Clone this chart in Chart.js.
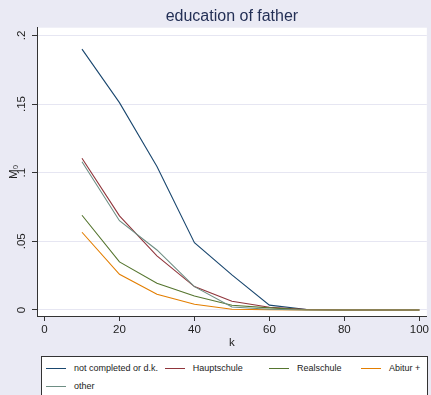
<!DOCTYPE html>
<html>
<head>
<meta charset="utf-8">
<script src="https://cdn.jsdelivr.net/npm/chart.js@4/dist/chart.umd.min.js"></script>
<style>
  html, body { margin: 0; padding: 0; background: #eaeaf4; }
  #wrap { position: relative; width: 431px; height: 395px; overflow: hidden; }
  #chart { position: absolute; left: 0; top: 0; }
  #legend {
    position: absolute; left: 41px; top: 356px; width: 385px; height: 50px;
    background: #fff; border: 1px solid #333;
    font-family: "Liberation Sans", Arial, sans-serif; font-size: 9px; color: #222;
  }
  .item { position: absolute; height: 18px; display: flex; align-items: center; white-space: nowrap; }
  .swatch { width: 20px; height: 1px; margin-right: 8px; }
</style>
</head>
<body>
<div id="wrap">
  <canvas id="chart" width="431" height="352"></canvas>
  <div id="legend"></div>
</div>
<script>
var chartTitle = 'education of father';
var xTitle = 'k';
var yTitle = 'M\u2080';

var kValues = [10, 20, 30, 40, 50, 60, 70, 80, 90, 100];

var seriesNames = ['not completed or d.k.', 'Hauptschule', 'Realschule', 'Abitur +', 'other'];
var seriesColors = ['#1a476f', '#90353b', '#55752f', '#e37e00', '#6e8e84'];

var notCompleted = [0.190, 0.151, 0.1045, 0.049, 0.0255, 0.0035, 0.0003, 0, 0, 0];
var hauptschule  = [0.1105, 0.0685, 0.0394, 0.017, 0.0063, 0.002, 0.0003, 0, 0, 0];
var realschule   = [0.069, 0.035, 0.0194, 0.0102, 0.0034, 0.0015, 0.0002, 0, 0, 0];
var abitur       = [0.0566, 0.026, 0.0114, 0.0041, 0.0005, 0.0002, 0, 0, 0, 0];
var other        = [0.108, 0.065, 0.0437, 0.017, 0.0022, 0.0005, 0, 0, 0, 0];

var xTicks = [0, 20, 40, 60, 80, 100];
var yTicks = [0, 0.05, 0.1, 0.15, 0.2];
var yTickLabels = ['0', '.05', '.1', '.15', '.2'];

var fontFamily = '"Liberation Sans", Arial, sans-serif';
var allSeries = [notCompleted, hauptschule, realschule, abitur, other];

var datasets = allSeries.map(function(vals, i) {
	return {
		label: seriesNames[i],
		data: vals.map(function(v, j) { return {x: kValues[j], y: v}; }),
		borderColor: seriesColors[i],
		backgroundColor: seriesColors[i],
		borderWidth: 1.1,
		pointRadius: 0,
		tension: 0,
		order: allSeries.length - i
	};
});

// white plot region
var plotBackground = {
	id: 'plotBackground',
	beforeDraw: function(chart) {
		var a = chart.chartArea, ctx = chart.ctx;
		ctx.save();
		ctx.fillStyle = '#ffffff';
		ctx.fillRect(a.left, a.top, a.right - a.left, a.bottom - a.top);
		ctx.restore();
	}
};

var ctx = document.getElementById('chart').getContext('2d');
var chart = new Chart(ctx, {
	type: 'line',
	data: { datasets: datasets },
	plugins: [plotBackground],
	options: {
		responsive: false,
		animation: false,
		layout: { padding: { left: 0, right: 1, top: 0, bottom: 0 } },
		plugins: {
			legend: { display: false },
			tooltip: { enabled: false },
			title: {
				display: true,
				text: chartTitle,
				fullSize: false,
				color: '#243056',
				font: { family: fontFamily, size: 16, weight: 'normal' },
				padding: { top: 7, bottom: 1.5 }
			}
		},
		scales: {
			x: {
				type: 'linear',
				min: -2,
				max: 102,
				afterBuildTicks: function(s) { s.ticks = xTicks.map(function(v) { return {value: v}; }); },
				afterFit: function(s) { s.height = 36; },
				ticks: {
					autoSkip: false, maxRotation: 0, color: '#222', padding: 2,
					font: { family: fontFamily, size: 11.5 }
				},
				grid: { drawOnChartArea: false, drawTicks: true, tickLength: 5, tickColor: '#333' },
				border: { color: '#333', width: 1 },
				title: {
					display: true, text: xTitle, color: '#222',
					font: { family: fontFamily, size: 11.5 },
					padding: { top: 0, bottom: 2 }
				}
			},
			y: {
				min: -0.0044,
				max: 0.2056,
				afterBuildTicks: function(s) { s.ticks = yTicks.map(function(v) { return {value: v}; }); },
				afterFit: function(s) { s.width = 37; },
				ticks: {
					color: '#222', padding: 2.5, minRotation: 90, maxRotation: 90, crossAlign: 'center',
					font: { family: fontFamily, size: 11.5 },
					callback: function(v, i) { return yTickLabels[i]; }
				},
				grid: { color: '#e6e6f2', lineWidth: 1, drawTicks: true, tickLength: 5, tickColor: '#333' },
				border: { color: '#333', width: 1 },
				title: {
					display: true, text: yTitle, color: '#222',
					font: { family: fontFamily, size: 11.5 },
					padding: { top: 7, bottom: 0 }
				}
			}
		}
	}
});

// legend box under the plot, laid out in Stata-like columns
var legendCols = [4, 122.7, 227, 319];
var legendEl = document.getElementById('legend');
seriesNames.forEach(function(name, i) {
	var item = document.createElement('div');
	item.className = 'item';
	item.style.left = legendCols[i % 4] + 'px';
	item.style.top = (2 + Math.floor(i / 4) * 18) + 'px';
	var sw = document.createElement('span');
	sw.className = 'swatch';
	sw.style.background = seriesColors[i];
	var txt = document.createElement('span');
	txt.textContent = name;
	item.appendChild(sw);
	item.appendChild(txt);
	legendEl.appendChild(item);
});
</script>
</body>
</html>
